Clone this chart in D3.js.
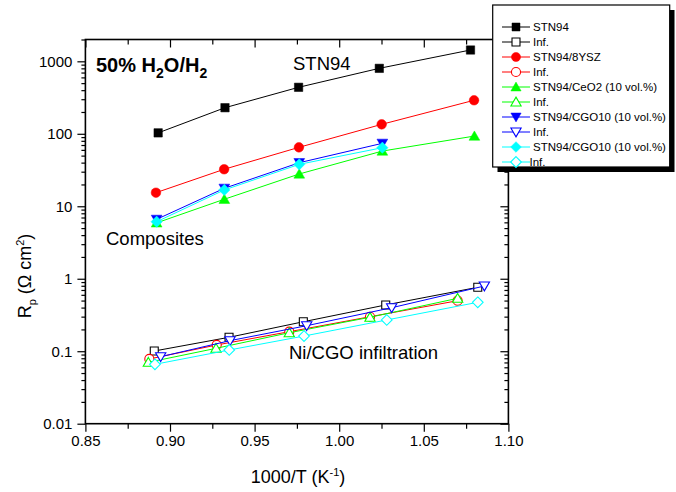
<!DOCTYPE html>
<html><head><meta charset="utf-8">
<script src="https://cdn.jsdelivr.net/npm/d3@7"></script>
<style>body{margin:0;background:#fff}svg{display:block}text{font-family:"Liberation Sans",Arial,sans-serif}</style>
</head><body><svg id="c" width="676" height="492"></svg>
<script>
// ---- data ----
const seriesNames = ["STN94","Inf.","STN94/8YSZ","Inf.","STN94/CeO2 (10 vol.%)","Inf.","STN94/CGO10 (10 vol.%)","Inf.","STN94/CGO10 (10 vol.%)","Inf."];
const seriesColors = ["#000000","#000000","#ff0000","#ff0000","#00ff00","#00ff00","#0000ff","#0000ff","#00ffff","#00ffff"];
const seriesShapes = ["square","square","circle","circle","triUp","triUp","triDown","triDown","diamond","diamond"];
const seriesFilled = [true,false,true,false,true,false,true,false,true,false];

const xSTN94 = [0.893, 0.9325, 0.976, 1.0237, 1.0776];
const ySTN94 = [103, 229, 438, 800, 1432];
const xSTN94Inf = [0.8907, 0.9349, 0.9788, 1.0275, 1.0819];
const ySTN94Inf = [0.1007, 0.1556, 0.255, 0.435, 0.762];
const xYSZ = [0.8917, 0.932, 0.9762, 1.0251, 1.0797];
const yYSZ = [15.4, 32.4, 65, 135, 290];
const xYSZInf = [0.8878, 0.9276, 0.9705, 1.0182, 1.07];
const yYSZInf = [0.0782, 0.122, 0.186, 0.299, 0.498];
const xCeO2 = [0.8921, 0.9321, 0.9764, 1.0255, 1.0799];
const yCeO2 = [5.9, 12.5, 27.9, 57.8, 93];
const xCeO2Inf = [0.8872, 0.9272, 0.9705, 1.0182, 1.07];
const yCeO2Inf = [0.0703, 0.1096, 0.18, 0.294, 0.537];
const xCGO = [0.8921, 0.9321, 0.9764, 1.0255];
const yCGO = [6.6, 17.7, 39.9, 73.9];
const xCGOInf = [0.8945, 0.9355, 0.9808, 1.031, 1.0858];
const yCGOInf = [0.084, 0.14, 0.225, 0.398, 0.794];
const xCGO2 = [0.8921, 0.9321, 0.9764, 1.0255];
const yCGO2 = [6.12, 16.8, 37.9, 64.3];
const xCGO2Inf = [0.8911, 0.935, 0.9792, 1.0281, 1.0819];
const yCGO2Inf = [0.066, 0.104, 0.162, 0.27, 0.473];

const seriesX = [xSTN94,xSTN94Inf,xYSZ,xYSZInf,xCeO2,xCeO2Inf,xCGO,xCGOInf,xCGO2,xCGO2Inf];
const seriesY = [ySTN94,ySTN94Inf,yYSZ,yYSZInf,yCeO2,yCeO2Inf,yCGO,yCGOInf,yCGO2,yCGO2Inf];

const xTicks = [0.85,0.90,0.95,1.00,1.05,1.10];
const xMinor = [0.875,0.925,0.975,1.025,1.075];
const yTicks = [0.01,0.1,1,10,100,1000];

// ---- layout ----
const L=85.4, R=508.4, T=39.5, B=423.7;
const svg = d3.select("#c");
const x = d3.scaleLinear().domain([0.85,1.10]).range([L,R]);
const y = d3.scaleLog().domain([0.01,2000]).range([B,T]);

const yMinor = [];
for (let e=-2;e<=3;e++) for (let m=2;m<=9;m++){const v=m*Math.pow(10,e); if(v<=2000) yMinor.push(v);}

// axes
const fmtX = d3.format(".2f");
const gB = svg.append("g").attr("transform",`translate(0,${B})`)
  .call(d3.axisBottom(x).tickValues(xTicks).tickFormat(fmtX).tickSize(8).tickPadding(4));
const gBm = svg.append("g").attr("transform",`translate(0,${B})`)
  .call(d3.axisBottom(x).tickValues(xMinor).tickFormat("").tickSize(5));
const gT = svg.append("g").attr("transform",`translate(0,${T})`)
  .call(d3.axisBottom(x).tickValues(xTicks).tickFormat("").tickSize(8));
const gTm = svg.append("g").attr("transform",`translate(0,${T})`)
  .call(d3.axisBottom(x).tickValues(xMinor).tickFormat("").tickSize(5));
const gL = svg.append("g").attr("transform",`translate(${L},0)`)
  .call(d3.axisLeft(y).tickValues(yTicks).tickFormat(d=>String(d)).tickSize(8).tickPadding(5));
const gLm = svg.append("g").attr("transform",`translate(${L},0)`)
  .call(d3.axisLeft(y).tickValues(yMinor).tickFormat("").tickSize(4));
const gR = svg.append("g").attr("transform",`translate(${R},0)`)
  .call(d3.axisLeft(y).tickValues(yTicks).tickFormat("").tickSize(8));
const gRm = svg.append("g").attr("transform",`translate(${R},0)`)
  .call(d3.axisLeft(y).tickValues(yMinor).tickFormat("").tickSize(4));
[gB,gBm,gT,gTm,gL,gLm,gR,gRm].forEach(g=>{
  g.select(".domain").remove();
  g.selectAll(".tick line").attr("stroke","#000").attr("stroke-width",1.2);
  g.selectAll(".tick text").attr("font-size",15).attr("fill","#000").style("font-family","'Liberation Sans',Arial,sans-serif");
});
svg.append("rect").attr("x",L).attr("y",T).attr("width",R-L).attr("height",B-T)
  .attr("fill","none").attr("stroke","#000").attr("stroke-width",1.6);

// marker path
function marker(shape, r){
  switch(shape){
    case "square": return `M${-r},${-r}H${r}V${r}H${-r}Z`;
    case "circle": return `M${-r},0A${r},${r} 0 1,0 ${r},0A${r},${r} 0 1,0 ${-r},0Z`;
    case "triUp": return `M0,${-r*1.05}L${r*1.1},${r*0.85}L${-r*1.1},${r*0.85}Z`;
    case "triDown": return `M0,${r*1.05}L${r*1.1},${-r*0.85}L${-r*1.1},${-r*0.85}Z`;
    case "diamond": return `M0,${-r*1.15}L${r*1.15},0L0,${r*1.15}L${-r*1.15},0Z`;
  }
}
const rad = {square:4.2,circle:4.8,triUp:4.9,triDown:4.9,diamond:4.9};

const line = d3.line().x(d=>x(d[0])).y(d=>y(d[1]));
const plot = svg.append("g");
seriesNames.forEach((n,i)=>{
  const pts = seriesX[i].map((v,j)=>[v,seriesY[i][j]]);
  const g = plot.append("g");
  g.append("path").attr("d",line(pts)).attr("fill","none").attr("stroke",seriesColors[i]).attr("stroke-width",1);
  g.selectAll("path.m").data(pts).join("path").attr("class","m")
    .attr("transform",d=>`translate(${x(d[0])},${y(d[1])})`)
    .attr("d",marker(seriesShapes[i], seriesFilled[i]?rad[seriesShapes[i]]:rad[seriesShapes[i]]*0.95))
    .attr("fill",seriesFilled[i]?seriesColors[i]:"#fff")
    .attr("stroke",seriesColors[i]).attr("stroke-width",seriesFilled[i]?0.5:1.1);
});

// annotations
const t1 = svg.append("text").attr("x",96).attr("y",72).attr("font-size",20).attr("font-weight","bold").attr("fill","#000");
t1.append("tspan").text("50% H");
t1.append("tspan").attr("dy",6).attr("font-size",14).text("2");
t1.append("tspan").attr("dy",-6).text("O/H");
t1.append("tspan").attr("dy",6).attr("font-size",14).text("2");
svg.append("text").attr("x",293).attr("y",70).attr("font-size",18.5).text("STN94");
svg.append("text").attr("x",106).attr("y",245).attr("font-size",18.5).text("Composites");
svg.append("text").attr("x",289).attr("y",359).attr("font-size",18.5).text("Ni/CGO infiltration");

// axis titles
const xt = svg.append("text").attr("x",298).attr("y",483).attr("text-anchor","middle").attr("font-size",18);
xt.append("tspan").text("1000/T (K");
xt.append("tspan").attr("dy",-7).attr("font-size",11).text("-1");
xt.append("tspan").attr("dy",7).text(")");
const yt = svg.append("text").attr("transform","translate(31,276) rotate(-90)").attr("text-anchor","middle").attr("font-size",18);
yt.append("tspan").text("R");
yt.append("tspan").attr("dy",5).attr("font-size",11).text("p");
yt.append("tspan").attr("dy",-5).text(" (\u03A9 cm");
yt.append("tspan").attr("dy",-7).attr("font-size",11).text("2");
yt.append("tspan").attr("dy",7).text(")");

// legend
const lg = svg.append("g");
lg.append("rect").attr("x",497.5).attr("y",10).attr("width",177).attr("height",162).attr("fill","#000");
lg.append("rect").attr("x",492.7).attr("y",5).attr("width",177).attr("height",162).attr("fill","#fff").attr("stroke","#000").attr("stroke-width",1.2);
seriesNames.forEach((n,i)=>{
  const cy = 27 + i*15;
  lg.append("line").attr("x1",502).attr("x2",530).attr("y1",cy).attr("y2",cy).attr("stroke",seriesColors[i]).attr("stroke-width",1);
  lg.append("path").attr("transform",`translate(516,${cy})`)
    .attr("d",marker(seriesShapes[i], rad[seriesShapes[i]]*0.95))
    .attr("fill",seriesFilled[i]?seriesColors[i]:"#fff")
    .attr("stroke",seriesColors[i]).attr("stroke-width",seriesFilled[i]?0.5:1.1);
  lg.append("text").attr("x",i===9?529.5:533).attr("y",cy+4).attr("font-size",11.5).text(n);
});
</script></body></html>
